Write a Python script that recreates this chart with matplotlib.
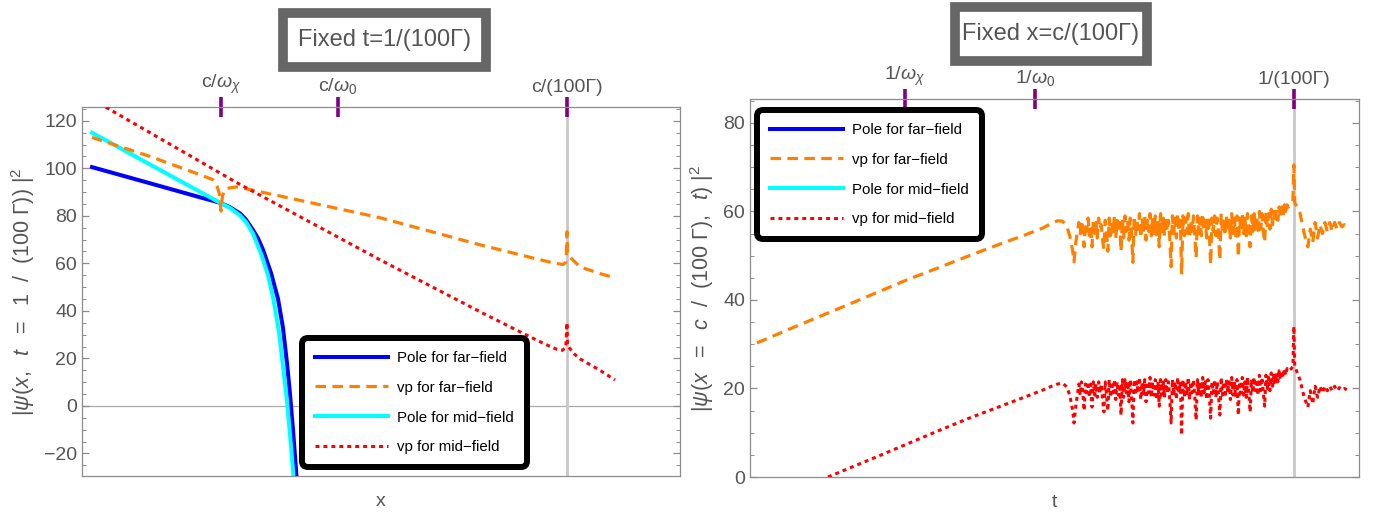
import numpy as np
import matplotlib
matplotlib.use("Agg")
import matplotlib.pyplot as plt
from matplotlib.lines import Line2D
from matplotlib.patches import Rectangle
from matplotlib.ticker import MultipleLocator

plt.rcParams['font.family'] = ['Liberation Sans', 'DejaVu Sans']
plt.rcParams['mathtext.fontset'] = 'custom'
plt.rcParams['mathtext.rm'] = 'Liberation Sans'
plt.rcParams['mathtext.it'] = 'Liberation Sans:italic'
plt.rcParams['mathtext.bf'] = 'Liberation Sans:bold'

# ---------------- data: left panel (fixed t) ----------------
left_top_ticks = [23.2, 42.8, 81.1]
left_top_labels = [r"c/$\omega_\chi$", r"c/$\omega_0$", "c/(100Γ)"]

pole_far_x = [1.67, 11.37, 19.73, 23.08, 24.75, 26.42, 27.4, 28.6, 29.43, 30.27, 31.6, 32.78, 33.6, 34.28, 34.78, 35.28, 35.79, 36.0]
pole_far_y = [100.5, 93.7, 87.8, 85.5, 83.6, 81.0, 78.5, 74.0, 70.5, 65.7, 56.0, 45.0, 33.0, 18.0, 5.0, -10.0, -27.0, -35.0]

pole_mid_x = [1.67, 11.37, 19.73, 23.08, 24.75, 26.42, 27.4, 28.6, 30.1, 31.1, 32.0, 32.94, 33.6, 34.28, 34.78, 35.28, 35.6]
pole_mid_y = [115.0, 101.6, 90.1, 85.5, 83.3, 80.2, 77.5, 72.5, 63.0, 55.0, 45.0, 31.0, 17.0, 2.0, -12.0, -27.0, -37.0]

vp_far_x = [1.67, 11.37, 19.73, 21.9, 22.58, 23.0, 23.24, 23.49, 24.08, 25.92, 35.0, 49.83, 66.56, 75.0, 78.76, 80.43, 80.95, 81.1, 81.2, 83.28, 86.6, 89.13]
vp_far_y = [113.0, 105.0, 97.3, 95.2, 92.5, 89.0, 82.0, 88.5, 91.5, 92.2, 87.3, 79.2, 67.8, 62.5, 60.2, 59.5, 60.5, 73.3, 63.6, 58.5, 55.7, 53.9]

vp_mid_x = [1.67, 3.85, 25.92, 49.83, 66.89, 73.24, 77.0, 79.4, 80.3, 80.9, 81.1, 81.2, 82.1, 83.28, 86.6, 89.13]
vp_mid_y = [129.0, 125.9, 93.9, 61.5, 39.2, 31.2, 26.5, 23.8, 23.4, 24.5, 35.0, 25.5, 22.3, 19.8, 15.0, 10.9]

# ---------------- data: right panel (fixed x) ----------------
right_top_ticks = [25.45, 46.8, 89.3]
right_top_labels = [r"1/$\omega_\chi$", r"1/$\omega_0$", "1/(100Γ)"]

far_smooth_t = [1.15, 8, 15, 20, 25.7, 31, 36, 41, 45, 48, 49.5, 50.5, 51.3, 52.0, 52.5, 53.0, 53.2, 53.5]
far_smooth_v = [30.3, 34.3, 38.3, 41.2, 44.5, 47.3, 50.0, 52.6, 54.6, 56.2, 57.3, 57.9, 57.8, 56.7, 54.5, 51.0, 48.6, 53.0]

mid_smooth_t = [12.8, 20, 25.7, 31.2, 36, 41, 45, 48, 49.5, 50.5, 51.3, 52.0, 52.5, 53.0, 53.2, 53.5]
mid_smooth_v = [0.0, 4.1, 7.4, 10.6, 13.3, 15.9, 18.0, 19.6, 20.5, 21.0, 21.2, 20.4, 18.5, 15.0, 12.2, 16.0]

far_noise_v = [
    57.5, 55.0, 58.0, 56.0, 52.0, 57.5, 55.5, 58.5, 54.5, 57.0,
    52.0, 58.0, 55.0, 57.5, 54.0, 58.5, 56.0, 57.0, 53.5, 51.5,
    58.0, 55.5, 51.0, 58.5, 54.5, 57.5, 55.0, 59.0, 54.0, 58.0,
    55.5, 57.5, 51.0, 58.5, 54.0, 59.0, 55.5, 58.0, 53.5, 58.5,
    55.0, 48.5, 59.0, 54.5, 58.0, 56.0, 59.5, 54.0, 58.5, 55.0,
    59.0, 53.5, 58.0, 55.5, 59.5, 54.5, 58.5, 55.0, 59.0, 54.0,
    58.0, 52.0, 59.5, 55.0, 58.5, 54.5, 59.0, 55.5, 58.0, 54.0,
    47.5, 59.0, 55.0, 58.5, 54.0, 59.5, 55.5, 58.0, 45.8, 59.0,
    54.5, 58.5, 55.0, 59.5, 54.0, 58.0, 55.5, 59.0, 54.5, 49.5,
    59.0, 55.0, 58.5, 54.5, 59.5, 55.5, 58.0, 54.0, 59.0, 55.0,
    48.0, 58.5, 55.5, 59.0, 54.5, 58.5, 55.0, 49.0, 59.5, 55.0,
    58.5, 54.5, 59.0, 55.5, 58.0, 54.0, 59.5, 55.0, 58.5, 54.5,
    59.0, 49.7, 58.5, 55.5, 59.5, 55.0, 58.5, 54.5, 59.5, 55.5,
    52.0, 59.0, 55.5, 59.5, 56.0, 59.0, 55.0, 60.0, 56.0, 59.5,
    55.5, 53.0, 60.0, 56.5, 59.5, 56.0, 60.5, 57.0, 60.0, 57.5,
    60.5, 58.0, 61.0, 58.5, 61.0, 59.0, 61.5, 60.0, 61.5, 61.0]
mid_noise_v = [
    21.0, 18.5, 21.5, 19.0, 15.0, 21.0, 19.0, 21.5, 18.0, 21.0,
    15.8, 21.5, 18.5, 21.0, 18.0, 21.5, 19.0, 21.0, 17.5, 14.7,
    21.5, 18.5, 15.0, 22.0, 18.0, 21.5, 19.0, 22.0, 17.5, 21.5,
    18.5, 21.0, 14.0, 22.0, 18.0, 22.0, 19.0, 21.5, 17.0, 22.0,
    18.5, 12.2, 22.0, 18.5, 21.5, 19.0, 22.5, 17.5, 21.5, 18.5,
    22.0, 17.0, 21.5, 19.0, 22.5, 18.0, 21.5, 18.5, 22.0, 17.5,
    21.5, 16.0, 22.0, 18.5, 21.5, 18.0, 22.0, 19.0, 21.5, 17.5,
    12.2, 22.0, 18.5, 21.5, 17.5, 22.5, 19.0, 21.5, 9.5, 22.0,
    18.0, 21.5, 18.5, 22.5, 17.5, 21.5, 19.0, 22.0, 18.0, 12.9,
    22.0, 18.5, 21.5, 18.0, 22.5, 19.0, 21.5, 17.5, 22.0, 18.5,
    13.3, 21.5, 19.0, 22.0, 18.0, 21.5, 18.5, 14.0, 22.5, 18.5,
    21.5, 18.0, 22.0, 19.0, 21.5, 17.5, 22.5, 18.5, 21.5, 18.0,
    22.0, 14.0, 21.5, 19.0, 22.5, 18.5, 21.5, 18.0, 22.5, 19.0,
    14.7, 22.0, 19.0, 22.5, 19.5, 22.0, 18.5, 23.0, 19.5, 22.5,
    19.0, 16.0, 23.0, 20.0, 22.5, 19.5, 23.5, 20.5, 23.0, 21.0,
    23.5, 21.5, 24.0, 22.0, 24.0, 22.5, 24.5, 23.0, 24.5, 24.0]

tail_t = [88.9, 89.15, 89.3, 89.45, 90.3, 91.0, 91.6, 92.0, 92.4, 92.8, 93.2, 93.6, 94.0, 94.4, 94.8, 95.2, 95.6, 96.0, 96.4, 96.8, 97.2, 97.6, 98.0]
far_tail_v = [61.5, 62.5, 70.5, 62.0, 59.7, 55.0, 52.0, 56.0, 53.0, 57.5, 54.0, 57.0, 55.0, 57.5, 55.5, 57.5, 55.5, 57.5, 56.0, 57.5, 56.5, 57.0, 56.5]
mid_tail_v = [24.5, 25.0, 34.0, 25.0, 22.0, 18.0, 15.8, 19.5, 16.5, 20.5, 18.0, 20.5, 19.0, 20.5, 19.5, 20.5, 19.5, 20.5, 19.5, 20.2, 19.7, 20.0, 19.7]

legend_labels = ["Pole for far\u2212field", "vp for far\u2212field", "Pole for mid\u2212field", "vp for mid\u2212field"]

# ---------------- styles ----------------
BLUE = '#0000ff'
ORANGE = '#ff8000'
CYAN = '#00ffff'
RED = '#ff0000'
GREY_TXT = '#555555'
FRAME = '#8c8c8c'
PURPLE = '#800080'
st_pole_far = dict(color=BLUE, lw=2.9, ls='-')
st_vp_far = dict(color=ORANGE, lw=2.3, ls=(0, (3.3, 2.0)))
st_pole_mid = dict(color=CYAN, lw=2.9, ls='-')
st_vp_mid = dict(color=RED, lw=2.2, ls=(0, (1.3, 1.3)))

W, H = 1383, 517
fig = plt.figure(figsize=(W / 100, H / 100), dpi=100)
axL = fig.add_axes([82 / W, 1 - 476 / H, 598 / W, 369 / H])
axR = fig.add_axes([750 / W, 1 - 477 / H, 609 / W, 378 / H])


def style_axes(ax, top_ticks, top_labels, xlabel, ylabel):
    for s in ax.spines.values():
        s.set_color(FRAME)
        s.set_linewidth(0.9)
    ax.set_xticks(top_ticks)
    ax.set_xticklabels(top_labels)
    ax.tick_params(axis='x', which='major', bottom=False, top=True, labelbottom=False, labeltop=True,
                   direction='inout', length=14, width=2.6, color=PURPLE, labelcolor=GREY_TXT,
                   labelsize=14, pad=1)
    ax.tick_params(axis='x', which='minor', bottom=False, top=False)
    ax.yaxis.set_minor_locator(MultipleLocator(5))
    ax.tick_params(axis='y', which='both', left=True, right=True, direction='in', color=FRAME,
                   labelcolor=GREY_TXT, labelsize=14)
    ax.tick_params(axis='y', which='major', length=5, width=0.9)
    ax.tick_params(axis='y', which='minor', length=3, width=0.7)
    ax.set_xlabel(xlabel, color=GREY_TXT, fontsize=14, labelpad=12)
    ax.set_ylabel(ylabel, color=GREY_TXT, fontsize=15.5, labelpad=5)


# ---------------- left panel ----------------
axL.set_xlim(0, 100)
axL.set_ylim(-29.5, 125.8)
axL.axhline(0, color='#aaaaaa', lw=0.9, zorder=1)
axL.axvline(left_top_ticks[2], color='#c8c8c8', lw=2.0, zorder=1)
axL.plot(pole_far_x, pole_far_y, **st_pole_far, zorder=3)
axL.plot(vp_far_x, vp_far_y, **st_vp_far, zorder=4)
axL.plot(pole_mid_x, pole_mid_y, **st_pole_mid, zorder=3)
axL.plot(vp_mid_x, vp_mid_y, **st_vp_mid, zorder=4)
axL.set_yticks([-20, 0, 20, 40, 60, 80, 100, 120])
axL.set_yticklabels(["\u221220", "0", "20", "40", "60", "80", "100", "120"])
style_axes(axL, left_top_ticks, left_top_labels, "x",
           r"$|\psi(x,\ \ t\ \ =\ \ 1\ \ /\ \ (100\ \Gamma))\ |^2$")

# ---------------- right panel ----------------
far_t = np.concatenate([far_smooth_t, np.linspace(54.0, 88.4, len(far_noise_v)), tail_t])
far_v = np.concatenate([far_smooth_v, far_noise_v, far_tail_v])
mid_t = np.concatenate([mid_smooth_t, np.linspace(54.0, 88.4, len(mid_noise_v)), tail_t])
mid_v = np.concatenate([mid_smooth_v, mid_noise_v, mid_tail_v])

axR.set_xlim(0, 100)
axR.set_ylim(0, 85.4)
axR.axvline(right_top_ticks[2], color='#c8c8c8', lw=2.0, zorder=1)
axR.plot(far_t, far_v, **st_vp_far, zorder=4)
axR.plot(mid_t, mid_v, **st_vp_mid, zorder=4)
axR.set_yticks([0, 20, 40, 60, 80])
style_axes(axR, right_top_ticks, right_top_labels, "t",
           r"$|\psi(x\ \ =\ \ c\ \ /\ \ (100\ \Gamma),\ \ t)\ |^2$")

# ---------------- legends ----------------
handles = [Line2D([], [], **st_pole_far), Line2D([], [], **st_vp_far),
           Line2D([], [], **st_pole_mid), Line2D([], [], **st_vp_mid)]
for ax, anchor in [(axL, (302 / W, 1 - 338 / H)), (axR, (757 / W, 1 - 110 / H))]:
    leg = ax.legend(handles, legend_labels, loc='upper left', bbox_to_anchor=anchor,
                    bbox_transform=fig.transFigure, borderaxespad=0, fontsize=10.8,
                    handlelength=4.9, handletextpad=0.6, labelspacing=1.06, borderpad=0.85,
                    fancybox=True, framealpha=1, edgecolor='black')
    fr = leg.get_frame()
    fr.set_linewidth(4.3)
    fr.set_boxstyle('round', pad=0, rounding_size=0.4)
    leg.set_zorder(10)

# ---------------- title boxes ----------------
for (x0, y0, x1, y1), txt in [((283, 13, 486, 67), "Fixed t=1/(100Γ)"),
                              ((955, 7, 1147, 61), "Fixed x=c/(100Γ)")]:
    fig.patches.append(Rectangle((x0 / W, 1 - y1 / H), (x1 - x0) / W, (y1 - y0) / H,
                                 transform=fig.transFigure, fc='white', ec='#666666', lw=7))
    fig.text((x0 + x1) / 2 / W, 1 - (y0 + y1) / 2 / H, txt, ha='center', va='center',
             fontsize=17, color=GREY_TXT)

fig.savefig("out.png", dpi=100)
